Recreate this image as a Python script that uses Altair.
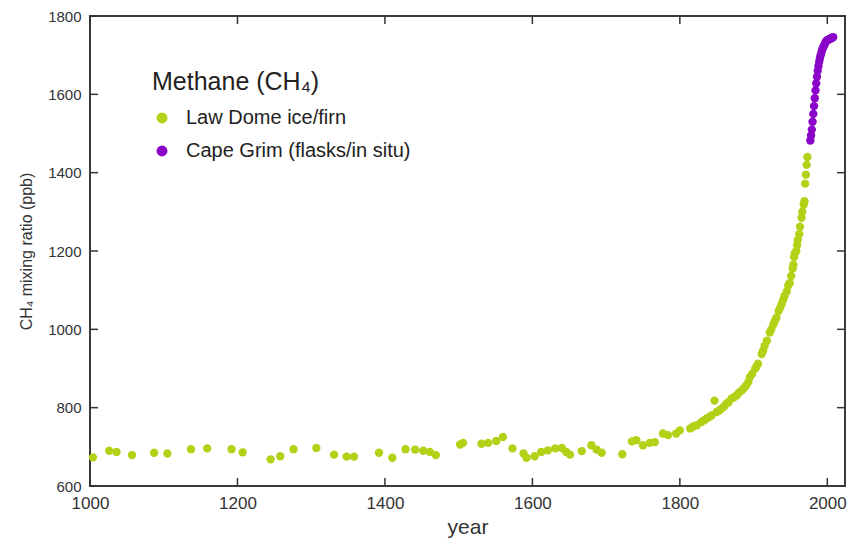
import altair as alt
import pandas as pd

# ---- data ----
law_year = [1004, 1026, 1036, 1057, 1087, 1105, 1137, 1159, 1192, 1207,
            1245, 1258, 1276, 1307, 1331, 1348, 1358, 1392, 1410, 1428,
            1441, 1452, 1461, 1469, 1502, 1506, 1531, 1540, 1551, 1560,
            1573, 1588, 1592, 1603, 1612, 1621, 1631, 1640, 1646, 1651,
            1667, 1680, 1687, 1694, 1722, 1735, 1741, 1750, 1759, 1766,
            1777, 1784, 1795, 1800, 1814, 1818, 1823, 1829, 1833, 1836,
            1840, 1843, 1847, 1850, 1853, 1856, 1860, 1863, 1866, 1870,
            1873, 1877, 1880, 1884, 1887, 1890, 1893, 1895, 1898, 1902,
            1904, 1906, 1911, 1913, 1915, 1918, 1922, 1924, 1927, 1929,
            1931, 1934, 1936, 1938, 1940, 1942, 1945, 1947, 1949, 1951,
            1953, 1954, 1955, 1956, 1958, 1959, 1960, 1962, 1963, 1965,
            1966, 1968, 1969, 1970, 1971, 1972, 1973]
law_ppb = [673, 690, 687, 679, 685, 683, 694, 696, 694, 686,
           668, 676, 694, 697, 680, 675, 675, 685, 672, 694,
           693, 690, 687, 679, 706, 710, 708, 710, 715, 725,
           696, 683, 672, 676, 687, 691, 696, 697, 687, 680,
           689, 704, 693, 685, 681, 714, 717, 704, 710, 712,
           734, 730, 734, 742, 747, 752, 755, 763, 768, 772,
           776, 780, 818, 789, 792, 797, 803, 810, 814, 823,
           826, 831, 838, 844, 850, 857, 866, 878, 886, 899,
           905, 912, 937, 946, 958, 971, 992, 1000, 1013, 1022,
           1030, 1047, 1055, 1064, 1075, 1085, 1097, 1112, 1118, 1136,
           1155, 1165, 1185, 1195, 1200, 1215, 1228, 1243, 1262, 1285,
           1300, 1318, 1327, 1372, 1395, 1420, 1440]

grim_year = [1977, 1978, 1979, 1980, 1981, 1982, 1983, 1984, 1985, 1986,
             1987, 1988, 1989, 1990, 1991, 1992, 1993, 1994, 1995, 1996,
             1997, 1998, 1999, 2000, 2001, 2002, 2003, 2004, 2005, 2006,
             2007, 2008]
grim_ppb = [1482, 1495, 1510, 1530, 1550, 1570, 1590, 1610, 1628, 1645,
            1660, 1672, 1683, 1692, 1700, 1707, 1713, 1718, 1722, 1726,
            1730, 1734, 1737, 1738, 1739, 1740, 1741, 1742, 1743, 1744,
            1745, 1746]

series_names = ["Law Dome ice/firn", "Cape Grim (flasks/in situ)"]
series_colors = ["#b3d117", "#8a05c9"]
x_ticks = [1000, 1200, 1400, 1600, 1800, 2000]
y_ticks = [600, 800, 1000, 1200, 1400, 1600, 1800]

df = pd.DataFrame({
    "year": law_year + grim_year,
    "ppb": law_ppb + grim_ppb,
    "source": [series_names[0]] * len(law_year) + [series_names[1]] * len(grim_year),
})
xt = pd.DataFrame({"year": x_ticks})
yt = pd.DataFrame({"ppb": y_ticks})

FONT = "Liberation Sans"
W, H = 755, 470
TL = 8  # inward tick length
INK = "#333333"
xs = alt.Scale(domain=[1000, 2024], nice=False, zero=False)
ys = alt.Scale(domain=[600, 1800], nice=False, zero=False)

points = alt.Chart(df).mark_circle(size=70, opacity=1).encode(
    x=alt.X("year:Q", scale=xs, axis=alt.Axis(
        values=x_ticks, format="d", orient="bottom", title="year", ticks=False,
        tickSize=0, domain=False, grid=False, labelPadding=9, labelFontSize=17,
        labelColor=INK, labelFont=FONT, labelFlush=False, labelOverlap=False,
        titleFont=FONT, titleFontSize=21, titleFontWeight="normal",
        titleColor=INK, titlePadding=5)),
    y=alt.Y("ppb:Q", scale=ys, axis=alt.Axis(
        values=y_ticks, format="d", orient="left", title="CH₄ mixing ratio (ppb)",
        ticks=False, tickSize=0, domain=False, grid=False, labelPadding=9,
        labelFontSize=15, labelColor=INK, labelFont=FONT, labelFlush=False,
        labelOverlap=False, titleFont=FONT, titleFontSize=16,
        titleFontWeight="normal", titleColor=INK, titlePadding=13)),
    color=alt.Color("source:N",
                    scale=alt.Scale(domain=series_names, range=series_colors),
                    legend=alt.Legend(
                        title="Methane (CH₄)", orient="none", legendX=62, legendY=54,
                        titleFont=FONT, titleFontSize=25, titleFontWeight="normal",
                        titleColor="#222222", titlePadding=13, titleLimit=0,
                        labelFont=FONT, labelFontSize=20, labelColor="#222222",
                        labelLimit=0, labelOffset=14, rowPadding=13,
                        symbolSize=120, symbolType="circle",
                        symbolStrokeWidth=0, padding=0)),
)

# inward tick marks on all four sides, placed through the shared scales
tick_style = dict(color=INK, strokeWidth=1.5)
tick_bottom = alt.Chart(xt).mark_rule(**tick_style).encode(
    x=alt.X("year:Q", scale=xs), y=alt.value(H), y2=alt.value(H - TL))
tick_top = alt.Chart(xt).mark_rule(**tick_style).encode(
    x=alt.X("year:Q", scale=xs), y=alt.value(0), y2=alt.value(TL))
tick_left = alt.Chart(yt).mark_rule(**tick_style).encode(
    y=alt.Y("ppb:Q", scale=ys), x=alt.value(0), x2=alt.value(TL))
tick_right = alt.Chart(yt).mark_rule(**tick_style).encode(
    y=alt.Y("ppb:Q", scale=ys), x=alt.value(W), x2=alt.value(W - TL))

chart = alt.layer(points, tick_bottom, tick_top, tick_left, tick_right).properties(
    width=W, height=H,
    autosize=alt.AutoSizeParams(type="none"),
    padding={"left": 82, "top": 8, "right": 4, "bottom": 57},
    background="white",
).configure_view(stroke="#3a3a3a", strokeWidth=2)

chart.save("out.html", embed_options={"renderer": "svg", "actions": False})
